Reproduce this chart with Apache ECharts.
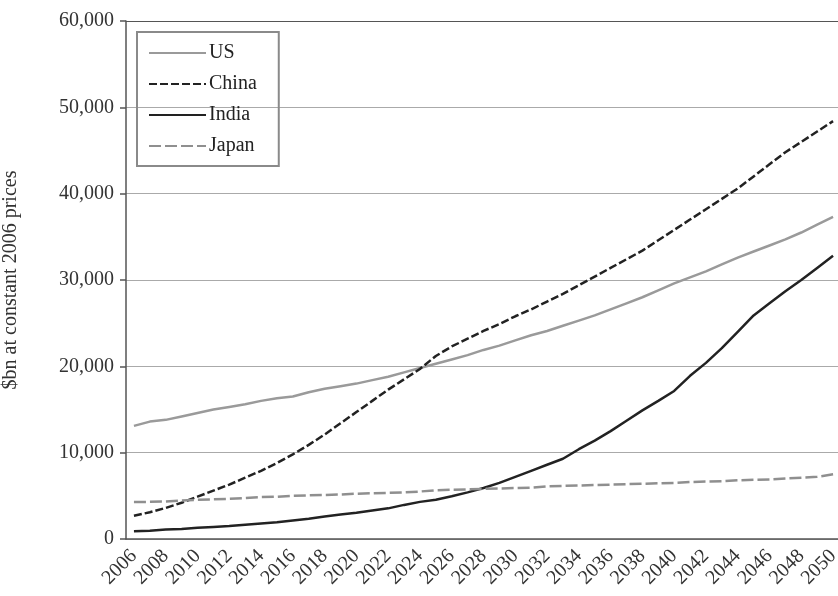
<!DOCTYPE html>
<html>
<head>
<meta charset="utf-8">
<script src="https://cdn.jsdelivr.net/npm/echarts@6/dist/echarts.min.js"></script>
<style>html,body{margin:0;padding:0;background:#fff}#c{width:838px;height:596px}</style>
</head>
<body>
<div id="c"></div>
<script>
const years = [];
for (let y = 2006; y <= 2050; y++) years.push(String(y));

const usValues = [13100,13600,13800,14200,14600,15000,15300,15600,16000,16300,
  16500,17000,17400,17700,18000,18400,18800,19300,19800,20300,
  20800,21300,21900,22400,23000,23600,24100,24700,25300,25900,
  26600,27300,28000,28800,29600,30300,31000,31800,32600,33300,
  34000,34700,35500,36400,37300];
const chinaValues = [2700,3100,3600,4200,4900,5600,6300,7100,7900,8800,
  9800,10900,12100,13400,14700,16000,17300,18500,19700,21200,
  22300,23200,24100,24900,25800,26600,27500,28400,29400,30400,
  31400,32400,33400,34600,35800,37000,38200,39400,40600,42000,
  43400,44800,46000,47200,48400];
const indiaValues = [900,950,1100,1150,1300,1400,1500,1650,1800,1950,
  2150,2350,2600,2850,3050,3300,3550,3950,4300,4550,
  4950,5400,5900,6500,7200,7900,8600,9300,10400,11400,
  12500,13700,14900,16000,17150,18900,20400,22100,24000,25900,
  27300,28700,30000,31400,32800];
const japanValues = [4300,4300,4350,4450,4550,4600,4650,4750,4850,4900,
  5000,5050,5100,5150,5250,5300,5350,5400,5500,5650,
  5700,5750,5800,5850,5900,5950,6100,6150,6200,6250,
  6300,6350,6400,6450,6500,6600,6650,6700,6800,6850,
  6900,7000,7100,7200,7500];
const yTicks = [0,10000,20000,30000,40000,50000,60000];

const FONT = 'Liberation Serif';
const chart = echarts.init(document.getElementById('c'), null, {renderer:'canvas'});
chart.setOption({
  animation: false,
  backgroundColor: '#fff',
  grid: { left: 126, top: 21, bottom: 57, right: -3, containLabel: false, outerBoundsMode: 'none' },
  legend: {
    orient: 'vertical', left: 137, top: 32,
    padding: [11, 22, 10, 11],
    borderColor: '#8a8a8a', borderWidth: 2,
    itemWidth: 57, itemHeight: 14, itemGap: 11,
    itemStyle: { opacity: 0 },
    textStyle: { fontFamily: FONT, fontSize: 20, color: '#222', lineHeight: 20, padding: [0,0,0,-2] },
    data: ['US','China','India','Japan']
  },
  xAxis: {
    type: 'category', data: years, boundaryGap: true,
    axisLine: { lineStyle: { color: '#555', width: 1.5 } },
    axisTick: { interval: 0, length: 7, lineStyle: { color: '#555', width: 1.5 } },
    axisLabel: { interval: 1, rotate: 45, fontFamily: FONT, fontSize: 20, color: '#333', margin: 14 }
  },
  yAxis: {
    type: 'value', min: yTicks[0], max: yTicks[yTicks.length-1], interval: 10000,
    name: '$bn at constant 2006 prices', nameLocation: 'middle', nameGap: 105, nameRotate: 90,
    nameTextStyle: { fontFamily: FONT, fontSize: 20, color: '#333' },
    axisLine: { show: true, lineStyle: { color: '#555', width: 1.5 } },
    axisTick: { show: true, length: 6, lineStyle: { color: '#555', width: 1.5 } },
    axisLabel: { fontFamily: FONT, fontSize: 20, color: '#333', margin: 12,
      formatter: v => v === 0 ? '0' : v.toLocaleString('en-US') },
    splitLine: { show: true, lineStyle: { color: ['#aaa','#aaa','#aaa','#aaa','#aaa','#aaa','#555'], width: 1.2 } }
  },
  series: [
    { name: 'US', type: 'line', data: usValues, symbol: 'none', smooth: false,
      lineStyle: { color: '#9a9a9a', width: 2.5 }, itemStyle: { color: '#9a9a9a' } },
    { name: 'China', type: 'line', data: chinaValues, symbol: 'none',
      lineStyle: { color: '#222', width: 2.5, type: [8,3] }, itemStyle: { color: '#222' } },
    { name: 'India', type: 'line', data: indiaValues, symbol: 'none',
      lineStyle: { color: '#222', width: 2.5 }, itemStyle: { color: '#222' } },
    { name: 'Japan', type: 'line', data: japanValues, symbol: 'none',
      lineStyle: { color: '#8f8f8f', width: 2.5, type: [12,4] }, itemStyle: { color: '#8f8f8f' } }
  ]
});
</script>
</body>
</html>
